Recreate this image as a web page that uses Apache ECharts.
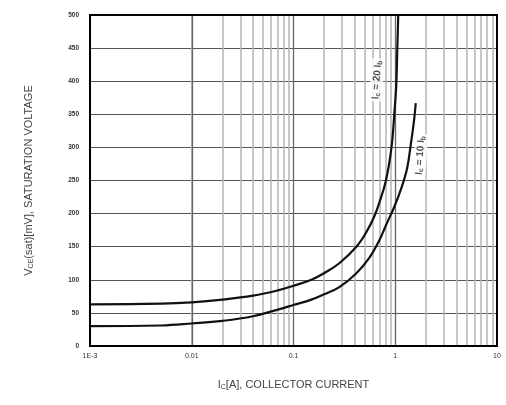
<!DOCTYPE html>
<html><head><meta charset="utf-8">
<script src="https://cdn.jsdelivr.net/npm/echarts@6/dist/echarts.min.js"></script>
<style>html,body{margin:0;padding:0;background:#fff}#c{width:506px;height:405px}</style>
</head><body><div id="c"></div>
<script>
// Ic = 20 Ib curve
const currentA20 = [0.001,0.005,0.01,0.02,0.04,0.07,0.1,0.15,0.2,0.282,0.415,0.52,0.623,0.713,0.798,0.873,0.935,0.977,1.023,1.047,1.07];
const vsat20 =     [63,   64,   66,  70,  76,  84,  91, 100, 110,125,  150,  172, 196,  221,  246,  276,  311,  349,  394,  447,  500];
// Ic = 10 Ib curve
const currentA10 = [0.001,0.005,0.01,0.02,0.04,0.07,0.1,0.15,0.2,0.282,0.415,0.56,0.70,0.83,0.977,1.15,1.31,1.42,1.52,1.59];
const vsat10 =     [30,   31,   34,  38,  45,  55,  62, 70,  78, 89,   110,  134, 160, 186, 210,  239, 269, 304, 337, 367];
const xTickLabels = {'0.001':'1E-3','0.01':'0.01','0.1':'0.1','1':'1','10':'10'};
const decades = [0.001,0.01,0.1,1];
const yTicks = [0,50,100,150,200,250,300,350,400,450,500];
const curveLabels = [
  {text:'I{s|c} = 20 I{s|b}', at:[0.66,402]},
  {text:'I{s|c} = 10 I{s|b}', at:[1.76,288]}
];

const minorLines = [];
decades.forEach(d=>{for(let k=2;k<=9;k++) minorLines.push({xAxis:+(d*k).toPrecision(3)});});
const majorLines = [0.01,0.1,1].map(v=>({xAxis:v}));

const chart = echarts.init(document.getElementById('c'));
const font = 'Liberation Sans, Arial, sans-serif';
chart.setOption({
  animation:false,
  grid:{left:90,right:9,top:15,bottom:59,show:true,borderColor:'#000',borderWidth:2,z:10},
  xAxis:{type:'log',logBase:10,min:0.001,max:10,
    name:'I{s|C}[A], COLLECTOR CURRENT',nameLocation:'middle',nameGap:32,
    nameTextStyle:{fontFamily:font,fontSize:11,color:'#444',rich:{s:{fontSize:7,color:'#444',padding:[6,0,0,0]}}},
    axisLine:{show:false},axisTick:{show:false},splitLine:{show:false},
    axisLabel:{fontFamily:font,fontSize:7,color:'#333',margin:7,
      formatter:v=>{const k=String(+v.toPrecision(3));return xTickLabels[k]!==undefined?xTickLabels[k]:'';}}
  },
  yAxis:{type:'value',min:0,max:500,interval:50,
    name:'V{s|CE}(sat)[mV], SATURATION VOLTAGE',nameLocation:'middle',nameGap:55,
    nameTextStyle:{fontFamily:font,fontSize:11,color:'#444',rich:{s:{fontSize:7,color:'#444',padding:[6,0,0,0]}}},
    axisLine:{show:false},axisTick:{show:false},
    splitLine:{show:true,lineStyle:{color:'#555',width:1.2}},
    axisLabel:{fontFamily:font,fontSize:6.5,color:'#333',margin:11,fontWeight:'bold',
      formatter:v=>yTicks.includes(v)?String(v):''}
  },
  series:[
    {type:'line',data:currentA20.map((x,i)=>[x,vsat20[i]]),smooth:0.4,symbol:'none',
      lineStyle:{color:'#111',width:2.2},z:5,
      markLine:{silent:true,symbol:'none',label:{show:false},animation:false,
        lineStyle:{color:'#b4b4b4',width:1.5,type:'solid'},data:minorLines}
    },
    {type:'line',data:currentA10.map((x,i)=>[x,vsat10[i]]),smooth:0.4,symbol:'none',
      lineStyle:{color:'#111',width:2.2},z:5,
      markLine:{silent:true,symbol:'none',label:{show:false},animation:false,
        lineStyle:{color:'#666',width:1.3,type:'solid'},data:majorLines}
    },
    {type:'scatter',symbolSize:0,z:20,silent:true,
      data:curveLabels.map(c=>({value:c.at,
        label:{show:true,position:'inside',rotate:86,fontFamily:font,fontSize:10,fontWeight:'bold',color:'#222',
          backgroundColor:'#fff',padding:[1,2],
          formatter:c.text,rich:{s:{fontSize:7,fontWeight:'bold',color:'#222',padding:[4,0,0,0]}}}}))
    }
  ]
});
</script></body></html>
